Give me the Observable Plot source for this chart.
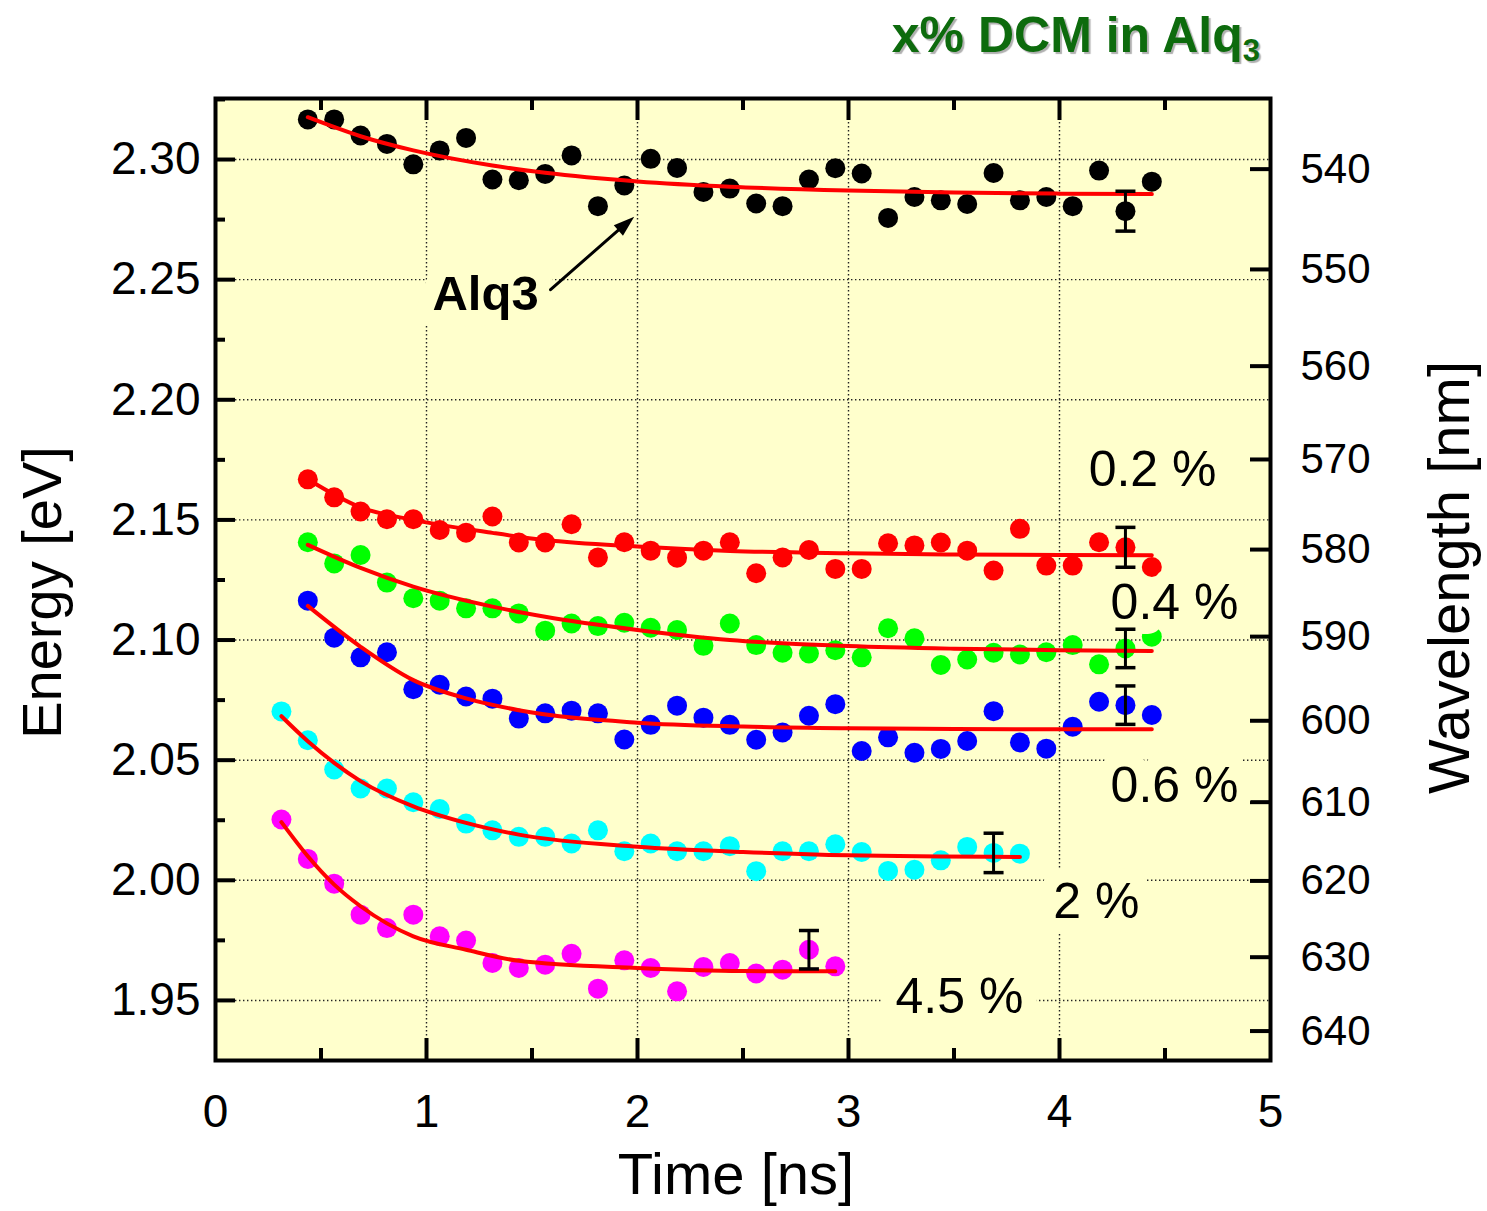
<!DOCTYPE html>
<html>
<head>
<meta charset="utf-8">
<script src="https://cdn.jsdelivr.net/npm/d3@7"></script>
<script src="https://cdn.jsdelivr.net/npm/@observablehq/plot@0.6"></script>
<style>
  body { margin: 0; background: #ffffff; }
  #title {
    height: 90px; box-sizing: border-box; padding-right: 227px; text-align: right;
    font: bold 50px "Liberation Sans", Arial, sans-serif; color: #0d6b0d;
    line-height: 70px; text-shadow: 2px 2px 1px #b0b0b0; white-space: nowrap;
  }
  #title sub { font-size: 62%; vertical-align: -0.3em; line-height: 0; }
</style>
</head>
<body>
<div id="title">x% DCM in Alq<sub>3</sub></div>
<div id="chart"></div>
<script>
// ---------------- data ----------------
const times = [0.3125, 0.4375, 0.5625, 0.6875, 0.8125, 0.9375, 1.0625, 1.1875, 1.3125, 1.4375,
  1.5625, 1.6875, 1.8125, 1.9375, 2.0625, 2.1875, 2.3125, 2.4375, 2.5625, 2.6875,
  2.8125, 2.9375, 3.0625, 3.1875, 3.3125, 3.4375, 3.5625, 3.6875, 3.8125, 3.9375,
  4.0625, 4.1875, 4.3125, 4.4375];

const seriesNames = ["Alq3", "0.2 %", "0.4 %", "0.6 %", "2 %", "4.5 %"];
const seriesColors = ["#000000", "#ff0000", "#00ff00", "#0000ff", "#00ffff", "#ff00ff"];

const energyAlq3 = [null, 2.3167, 2.3167, 2.310, 2.3065, 2.298, 2.3038, 2.309, 2.2917, 2.2914,
  2.294, 2.3017, 2.2806, 2.2892, 2.3003, 2.2965, 2.2865, 2.2879, 2.2817, 2.2806,
  2.2917, 2.2964, 2.2942, 2.2757, 2.2844, 2.283, 2.2815, 2.2944, 2.283, 2.2844,
  2.2806, 2.2954, 2.2785, 2.2908];
const energy02 = [null, 2.1669, 2.1594, 2.1535, 2.1503, 2.1503, 2.1458, 2.1447, 2.1514, 2.1406,
  2.1406, 2.1482, 2.1344, 2.1407, 2.1372, 2.1343, 2.1372, 2.1407, 2.1278, 2.1344,
  2.1375, 2.1296, 2.1296, 2.1403, 2.1394, 2.1406, 2.1372, 2.1289, 2.1463, 2.131,
  2.131, 2.1407, 2.1386, 2.1304];
const energy04 = [null, 2.1407, 2.1319, 2.1354, 2.1239, 2.1174, 2.1164, 2.1132, 2.1132, 2.1111,
  2.1039, 2.1069, 2.1058, 2.1072, 2.1051, 2.1042, 2.0976, 2.1069, 2.0979, 2.0947,
  2.0944, 2.0958, 2.0928, 2.1049, 2.1007, 2.0896, 2.0919, 2.0947, 2.094, 2.0949,
  2.0979, 2.0899, 2.0965, 2.1014];
const energy06 = [null, 2.1164, 2.101, 2.0928, 2.0949, 2.0795, 2.0814, 2.0765, 2.0756, 2.0673,
  2.0695, 2.0706, 2.0695, 2.0586, 2.0647, 2.0727, 2.0677, 2.0647, 2.0585, 2.0615,
  2.0685, 2.0733, 2.0538, 2.0595, 2.0531, 2.0547, 2.058, 2.0704, 2.0574, 2.0548,
  2.0639, 2.0743, 2.0729, 2.0688];
const energy2 = [2.0703, 2.0583, 2.0461, 2.0382, 2.0382, 2.0325, 2.0297, 2.0236, 2.0208, 2.0181,
  2.0181, 2.0153, 2.0208, 2.0121, 2.0153, 2.0121, 2.0121, 2.0142, 2.0038, 2.0121,
  2.0121, 2.015, 2.0118, 2.0039, 2.0044, 2.0083, 2.0139, 2.0114, 2.0111, null,
  null, null, null, null];
const energy45 = [2.0253, 2.0089, 1.9986, 1.9857, 1.9801, 1.9857, 1.9767, 1.9749, 1.9656, 1.9635,
  1.9649, 1.9694, 1.9549, 1.9667, 1.9635, 1.9538, 1.9639, 1.9656, 1.9612, 1.9628,
  1.9711, 1.9642, null, null, null, null, null, null, null, null,
  null, null, null, null];

// fitted curves
const fitTimeA = [0.4375, 0.6875, 0.9375, 1.3125, 1.5625, 2.0, 2.4375, 3.0, 3.5, 4.0, 4.4375];
const fitAlq3 = [2.3176, 2.3097, 2.3038, 2.2975, 2.2945, 2.2909, 2.2887, 2.2871, 2.2863, 2.2858, 2.2856];
const fit02 = [2.1669, 2.1552, 2.1500, 2.1446, 2.1416, 2.1389, 2.1371, 2.1361, 2.1356, 2.1354, 2.1353];
const fit04 = [2.1396, 2.1300, 2.1222, 2.1139, 2.1097, 2.1042, 2.1000, 2.0975, 2.0964, 2.0958, 2.0954];
const fitTime06 = [0.4375, 0.6875, 0.9375, 1.1875, 1.4375, 2.0, 2.5, 3.0, 3.5, 4.0, 4.4375];
const fit06 = [2.1142, 2.0972, 2.0833, 2.0757, 2.0708, 2.0656, 2.0640, 2.0633, 2.0630, 2.0629, 2.0629];
const fitTime2 = [0.3125, 0.4375, 0.5625, 0.6875, 0.9375, 1.1875, 1.4375, 2.0, 2.5, 3.0, 3.8125];
const fit2 = [2.0683, 2.0579, 2.0489, 2.0413, 2.0308, 2.0239, 2.0190, 2.0140, 2.0118, 2.0104, 2.0097];
const fitTime45 = [0.3125, 0.4375, 0.5625, 0.6875, 0.9375, 1.1875, 1.4375, 2.0, 2.5, 2.9375];
const fit45 = [2.0242, 2.0100, 1.9982, 1.9892, 1.9767, 1.9711, 1.9665, 1.9635, 1.9622, 1.9621];

// error bars
const errTime = [4.3125, 4.3125, 4.3125, 4.3125, 3.6875, 2.8125];
const errCenter = [2.2785, 2.1386, 2.0965, 2.0729, 2.0114, 1.9711];
const errHalf = [0.0083, 0.0083, 0.008, 0.008, 0.0082, 0.008];

// series labels
const labelText = ["0.2 %", "0.4 %", "0.6 %", "2 %", "4.5 %"];
const labelTime = [4.441, 4.545, 4.545, 4.175, 3.526];
const labelEnergy = [2.1708, 2.1154, 2.0392, 1.9908, 1.9513];
const alq3Label = {t: 1.28, E: 2.2438};
const alq3Arrow = {t1: 1.588, E1: 2.2458, t2: 1.976, E2: 2.2758};

// axes
const timeTicks = [0, 1, 2, 3, 4, 5];
const timeGrid = [1, 2, 3, 4];
const timeMinor = [0.5, 1.5, 2.5, 3.5, 4.5];
const energyTicks = [2.30, 2.25, 2.20, 2.15, 2.10, 2.05, 2.00, 1.95];
const energyMinor = [2.325, 2.275, 2.225, 2.175, 2.125, 2.075, 2.025, 1.975];
const wavelengthTicks = [540, 550, 560, 570, 580, 590, 600, 610, 620, 630, 640];
const hc = 1239.84; // eV*nm

// ---------------- tables ----------------
const energySeries = [energyAlq3, energy02, energy04, energy06, energy2, energy45];
const points = [];
energySeries.forEach((vals, s) => vals.forEach((v, i) => {
  if (v != null) points.push({series: seriesNames[s], color: seriesColors[s], t: times[i], E: v});
}));
const fitSets = [[fitTimeA, fitAlq3], [fitTimeA, fit02], [fitTimeA, fit04], [fitTime06, fit06], [fitTime2, fit2], [fitTime45, fit45]];
const fits = [];
fitSets.forEach(([ts, es], s) => ts.forEach((t, i) => fits.push({series: seriesNames[s], t, E: es[i]})));
const errs = errTime.map((t, i) => ({t, lo: errCenter[i] - errHalf[i], hi: errCenter[i] + errHalf[i]}));
const capPoints = errs.flatMap(d => [{t: d.t, E: d.lo}, {t: d.t, E: d.hi}]);
const labels = labelText.map((text, i) => ({text, t: labelTime[i], E: labelEnergy[i]}));

// ---------------- layout ----------------
const W = 1487, H = 1121, ML = 215, MR = 217, MT = 8, MB = 151;
const innerW = W - ML - MR, innerH = H - MT - MB;
const bg = "#ffffcc";
const font = "'Liberation Sans', Arial, Helvetica, sans-serif";
const capSymbol = {draw(ctx) { ctx.moveTo(-10, 0); ctx.lineTo(10, 0); }};
const headSymbol = {draw(ctx) { ctx.moveTo(0, -9); ctx.lineTo(7, 12); ctx.lineTo(-7, 12); ctx.closePath(); }};
const gridStyle = {stroke: "#222", strokeWidth: 1.4, strokeDasharray: "1.4,2.6"};
const tickStyle = {stroke: "#000", strokeWidth: 4};

const chart = Plot.plot({
  width: W, height: H,
  marginLeft: ML, marginRight: MR, marginTop: MT, marginBottom: MB,
  x: {domain: [0, 5], axis: null},
  y: {domain: [1.925, 2.3254], axis: null},
  style: {fontFamily: font, background: "#ffffff", color: "#000"},
  marks: [
    Plot.frame({fill: bg}),
    // dotted grid
    Plot.ruleY(energyTicks, gridStyle),
    Plot.ruleX(timeGrid, gridStyle),
    // inward ticks: bottom / top
    Plot.ruleX(timeGrid, {...tickStyle, insetTop: innerH - 22}),
    Plot.ruleX(timeMinor, {...tickStyle, insetTop: innerH - 12}),
    Plot.ruleX(timeGrid, {...tickStyle, insetBottom: innerH - 22}),
    Plot.ruleX(timeMinor, {...tickStyle, insetBottom: innerH - 12}),
    // left energy ticks
    Plot.ruleY(energyTicks, {...tickStyle, insetRight: innerW - 20}),
    Plot.ruleY(energyMinor, {...tickStyle, insetRight: innerW - 10}),
    // right wavelength ticks
    Plot.ruleY(wavelengthTicks, {...tickStyle, y: d => hc / d, insetLeft: innerW - 20}),
    // data
    Plot.dot(points, {x: "t", y: "E", r: 10, fill: "color", stroke: null}),
    Plot.line(fits, {x: "t", y: "E", z: "series", stroke: "#ff0000", strokeWidth: 4, curve: "monotone-x"}),
    // labels with background halo
    Plot.text(labels, {x: "t", y: "E", text: "text", fontSize: 50, fill: "#000",
      stroke: bg, strokeWidth: 30, strokeLinejoin: "round", paintOrder: "stroke"}),
    Plot.text([alq3Label], {x: "t", y: "E", text: () => "Alq3", fontSize: 49, fontWeight: "bold", fill: "#000",
      stroke: bg, strokeWidth: 34, strokeLinejoin: "round", paintOrder: "stroke"}),
    Plot.arrow([alq3Arrow], {x1: "t1", y1: "E1", x2: "t2", y2: "E2", stroke: "#000", strokeWidth: 3,
      headLength: 0, insetEnd: 10}),
    Plot.dot([alq3Arrow], {x: "t2", y: "E2", symbol: headSymbol, rotate: 49, fill: "#000", stroke: null, dx: -5, dy: 5}),
    // error bars
    Plot.ruleX(errs, {x: "t", y1: "lo", y2: "hi", stroke: "#000", strokeWidth: 3}),
    Plot.dot(capPoints, {x: "t", y: "E", symbol: capSymbol, fill: "none", stroke: "#000", strokeWidth: 3.5}),
    // tick labels
    Plot.axisX(timeTicks, {anchor: "bottom", tickSize: 0, tickPadding: 34, fontSize: 46, tickFormat: d => String(d), label: null}),
    Plot.axisY(energyTicks, {anchor: "left", tickSize: 0, tickPadding: 15, fontSize: 46, tickFormat: d3.format(".2f"), label: null}),
    Plot.axisY(wavelengthTicks.map(nm => hc / nm), {anchor: "right", tickSize: 0, tickPadding: 30, fontSize: 42,
      tickFormat: d => String(Math.round(hc / d)), label: null}),
    // axis titles
    Plot.text(["Time [ns]"], {frameAnchor: "bottom", textAnchor: "middle", lineAnchor: "middle", dx: -7, dy: 115, fontSize: 58}),
    Plot.text(["Energy [eV]"], {frameAnchor: "left", textAnchor: "middle", lineAnchor: "middle", dx: -172, dy: 13, rotate: -90, fontSize: 56}),
    Plot.text(["Wavelength [nm]"], {frameAnchor: "right", textAnchor: "middle", lineAnchor: "middle", dx: 180, dy: -2, rotate: -90, fontSize: 58}),
    // frame border
    Plot.frame({stroke: "#000", strokeWidth: 4})
  ]
});
document.getElementById("chart").appendChild(chart);
</script>
</body>
</html>
